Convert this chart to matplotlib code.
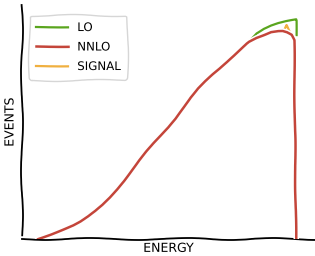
import numpy as np
import matplotlib
matplotlib.use("Agg")
import matplotlib.pyplot as plt

# data (energy, events)
base_x = [5.5, 7.5, 10.0, 12.5, 15.0, 17.5, 20.0, 22.5, 25.0, 27.5, 30.0, 32.5, 35.0, 37.5,
          40.0, 42.5, 45.0, 47.5, 50.0, 52.5, 55.0, 57.5, 60.0, 62.5, 65.0, 67.5, 70.0,
          72.5, 75.0, 76.7]
base_y = [0.0, 0.9, 2.1, 3.4, 4.7, 6.0, 7.6, 9.6, 11.9, 14.5, 17.6, 21.2, 25.2, 29.6,
          33.9, 37.7, 41.1, 44.3, 47.6, 51.4, 56.0, 60.6, 64.5, 67.6, 70.3, 72.8, 75.5,
          78.4, 81.5, 83.6]

lo_x = base_x + [77.5, 80.0, 82.5, 85.0, 87.5, 90.0, 92.5, 93.6, 93.6]
lo_y = base_y + [84.6, 88.0, 90.0, 91.4, 92.4, 93.1, 93.6, 93.8, 87.2]

nnlo_x = base_x + [77.5, 80.0, 82.5, 85.0, 87.5, 89.0, 90.5, 92.0, 92.9, 93.5]
nnlo_y = base_y + [84.4, 86.1, 87.3, 88.6, 89.0, 89.0, 88.4, 87.3, 85.0, 0.0]

sig_x = base_x + [77.5, 80.0, 82.5, 85.0, 87.5, 89.3, 90.3, 91.3, 92.0, 92.9, 93.5]
sig_y = base_y + [84.4, 86.1, 87.3, 88.6, 89.0, 89.0, 91.5, 88.4, 87.3, 85.0, 0.0]

labels = ["LO", "NNLO", "SIGNAL"]

with plt.xkcd():
    plt.rcParams['font.family'] = ['DejaVu Sans']
    fig = plt.figure(figsize=(3.15, 2.56), dpi=100)
    ax = fig.add_axes([0.07, 0.066, 0.93, 0.914])
    l1, = ax.plot(lo_x, lo_y, color="#5aa51e", lw=1.6, zorder=2)
    l3, = ax.plot(sig_x, sig_y, color="#f0b040", lw=1.6, zorder=1)
    l2, = ax.plot(nnlo_x, nnlo_y, color="#c4453a", lw=1.8, zorder=3)
    for ln in (l1, l2, l3):
        ln.set_sketch_params(scale=0.4, length=100, randomness=2)
    ax.set_xlim(0, 100)
    ax.set_ylim(0, 100)
    ax.spines['top'].set_visible(False)
    ax.spines['right'].set_visible(False)
    ax.spines['left'].set_linewidth(1.3)
    ax.spines['bottom'].set_linewidth(1.3)
    ax.set_xticks([])
    ax.set_yticks([])
    ax.set_xlabel("ENERGY", fontsize=9, labelpad=2)
    ax.set_ylabel("EVENTS", fontsize=9, labelpad=4)
    ax.legend([l1, l2, l3], labels, loc="upper left", fontsize=8.5,
              handlelength=2.7, bbox_to_anchor=(0.005, 0.985), borderpad=0.55,
              labelspacing=0.55)
    fig.savefig("out.png", dpi=100)
